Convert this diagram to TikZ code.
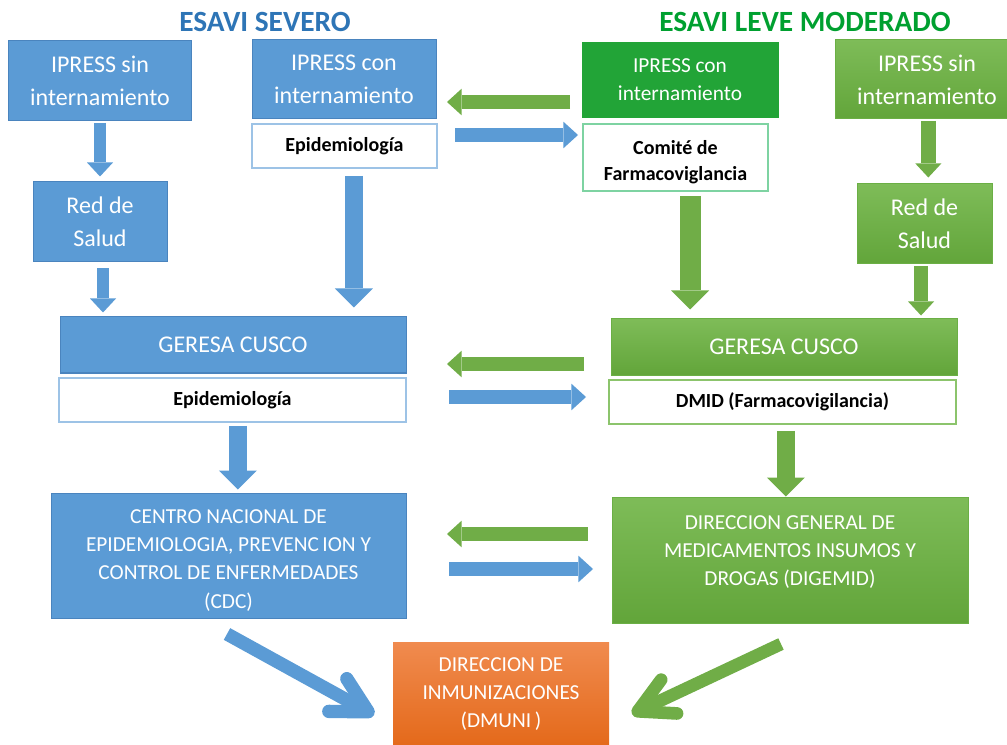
\documentclass[tikz,border=0pt]{standalone}
\usepackage{fontspec}
\setmainfont{Carlito}
\usetikzlibrary{arrows.meta}
\definecolor{SevBlue}{HTML}{5B9BD5}
\definecolor{SevEdge}{HTML}{4A84BE}
\definecolor{SevTitle}{HTML}{2E75B6}
\definecolor{SevSubEdge}{HTML}{9DC3E6}
\definecolor{LevTitle}{HTML}{00A030}
\definecolor{LevTop}{HTML}{7EBC58}
\definecolor{LevBot}{HTML}{62A53A}
\definecolor{LevEdge}{HTML}{6BAF45}
\definecolor{LevDark}{HTML}{22A437}
\definecolor{LevSubEdge}{HTML}{8CC46C}
\definecolor{ComiteEdge}{HTML}{7ED3A2}
\definecolor{LevArrow}{HTML}{70AD47}
\definecolor{DmuTop}{HTML}{F08B4F}
\definecolor{DmuBot}{HTML}{E4691A}
\tikzstyle{BoxText}=[text=white, align=center, inner sep=0pt, font=\fontsize{18}{24.75}\selectfont]
\tikzstyle{SmallText}=[font=\fontsize{16}{21.2}\selectfont]
\tikzstyle{SevBox}=[rectangle, BoxText, fill=SevBlue, draw=SevEdge, line width=0.75pt]
\tikzstyle{LevBox}=[rectangle, BoxText, top color=LevTop, bottom color=LevBot, draw=LevEdge, line width=0.75pt]
\tikzstyle{LevDarkBox}=[rectangle, BoxText, fill=LevDark, draw=LevDark]
\tikzstyle{DmuBox}=[rectangle, BoxText, SmallText, top color=DmuTop, bottom color=DmuBot]
\tikzstyle{SubBox}=[rectangle, fill=white, text=black, align=center, inner sep=0pt, line width=1.2pt, font=\bfseries\fontsize{15}{19.5}\selectfont]
\tikzstyle{SevSubBox}=[SubBox, draw=SevSubEdge]
\tikzstyle{LevSubBox}=[SubBox, draw=LevSubEdge]
\tikzstyle{SevSmall}=[draw=SevBlue, line width=9pt, -{Triangle[width=19.5pt, length=10.5pt, line width=0pt]}]
\tikzstyle{SevBig}=[SevSmall, line width=14pt, -{Triangle[width=28.5pt, length=14.25pt, line width=0pt]}]
\tikzstyle{SevSide}=[SevSmall, line width=10.5pt, -{Triangle[width=20pt, length=11pt, line width=0pt]}]
\tikzstyle{LevSmall}=[SevSmall, draw=LevArrow]
\tikzstyle{LevBig}=[SevBig, draw=LevArrow]
\tikzstyle{LevSide}=[SevSide, draw=LevArrow]
\tikzstyle{SevDiag}=[draw=SevBlue, line width=10pt, -{Straight Barb[length=26pt, width=28pt, round]}]
\tikzstyle{LevDiag}=[SevDiag, draw=LevArrow, line width=9.5pt]

\begin{document}
\begin{tikzpicture}[x=0.75pt, y=-0.75pt]
\useasboundingbox (0,0) rectangle (1007,745);
\clip (0,0) rectangle (1007,745);

\node[text=SevTitle, font=\bfseries\fontsize{22}{26}\selectfont](SevTitle) at (265,22) {ESAVI SEVERO};
\node[text=LevTitle, font=\bfseries\fontsize{22}{26}\selectfont](LevTitle) at (805,22) {ESAVI LEVE MODERADO};

% ESAVI severo
\node[SevBox, minimum width=183*0.75pt, minimum height=80*0.75pt](SevSin) at (100,81) {IPRESS sin\\internamiento};
\node[SevBox, minimum width=134*0.75pt, minimum height=80*0.75pt](SevRed) at (100,222) {Red de\\Salud};
\node[SevBox, minimum width=184*0.75pt, minimum height=79*0.75pt](SevCon) at (344,79.5) {IPRESS con\\internamiento};
\node[SevSubBox, minimum width=185*0.75pt, minimum height=44*0.75pt](SevEpi) at (344.5,146) {Epidemiología};
\node[SevBox, minimum width=346*0.75pt, minimum height=56*0.75pt](SevGeresa) at (233,345) {GERESA CUSCO};
\node[SevSubBox, minimum width=347*0.75pt, minimum height=44*0.75pt](SevGeresaEpi) at (232.5,400) {Epidemiología};
\node[SevBox, SmallText, minimum width=355*0.75pt, minimum height=125*0.75pt](Cdc) at (228.5,555.5) {\rule{0pt}{17.5pt}CENTRO NACIONAL DE\\EPIDEMIOLOGIA, PREVENC\,ION Y\\CONTROL DE ENFERMEDADES\\(CDC)};

% ESAVI leve moderado
\node[LevDarkBox, font=\fontsize{16}{21}\selectfont, minimum width=196*0.75pt, minimum height=75*0.75pt](LevCon) at (680,79.5) {IPRESS con\\internamiento};
\node[SubBox, draw=ComiteEdge, minimum width=185*0.75pt, minimum height=67*0.75pt](Comite) at (675.5,157.5) {\rule{0pt}{17pt}Comité de\\Farmacoviglancia};
\node[LevBox, minimum width=184*0.75pt, minimum height=79*0.75pt](LevSin) at (927,79.5) {IPRESS sin\\internamiento};
\node[LevBox, minimum width=135*0.75pt, minimum height=80*0.75pt](LevRed) at (924.5,224) {Red de\\Salud};
\node[LevBox, minimum width=346*0.75pt, minimum height=56*0.75pt](LevGeresa) at (784,347) {GERESA CUSCO};
\node[LevSubBox, minimum width=347*0.75pt, minimum height=44*0.75pt](Dmid) at (782.5,402) {DMID (Farmacovigilancia)};
\node[LevBox, SmallText, minimum width=356*0.75pt, minimum height=126*0.75pt](Digemid) at (790,560) {DIRECCION GENERAL DE\\MEDICAMENTOS INSUMOS Y\\DROGAS (DIGEMID)\rule[-14pt]{0pt}{1pt}};

\node[DmuBox, minimum width=216*0.75pt, minimum height=104*0.75pt](Dmuni) at (501,694) {DIRECCION DE\\INMUNIZACIONES\\(DMUNI\,)};

% flechas verticales
\draw[SevSmall, shorten <=1pt, shorten >=3.75pt](SevSin.south) -- (SevRed.north);
\draw[SevSmall, shorten <=4.5pt, shorten >=3pt]([xshift=2.25pt]SevRed.south) -- ([xshift=2.25pt]SevRed.south |- SevGeresa.north);
\draw[SevBig, shorten <=5.25pt, shorten >=6.75pt]([xshift=7pt]SevEpi.south) -- ([xshift=7pt]SevEpi.south |- SevGeresa.north);
\draw[SevBig, shorten <=2.25pt, shorten >=2.25pt]([xshift=4pt]SevGeresaEpi.south) -- ([xshift=4pt]SevGeresaEpi.south |- Cdc.north);

\draw[LevBig, line width=16pt, shorten <=3pt, shorten >=6.75pt]([xshift=11pt]Comite.south) -- ([xshift=11pt]Comite.south |- LevGeresa.north);
\draw[LevSmall, line width=11pt, shorten <=1pt, shorten >=4.5pt]([xshift=1pt]LevSin.south) -- ([xshift=1pt]LevSin.south |- LevRed.north);
\draw[LevSmall, line width=10pt, shorten <=1pt, shorten >=2.25pt]([xshift=-2.6pt]LevRed.south) -- ([xshift=-2.6pt]LevRed.south |- LevGeresa.north);
\draw[LevBig, shorten <=4.5pt, shorten >=0pt]([xshift=2.6pt]Dmid.south) -- ([xshift=2.6pt]Dmid.south |- Digemid.north);

% flechas entre columnas
\coordinate (TopGreenA) at (570,102);
\coordinate (TopGreenB) at (447,102);
\coordinate (TopBlueA) at (455,135);
\coordinate (TopBlueB) at (578,135);
\coordinate (MidGreenA) at (584,364);
\coordinate (MidGreenB) at (447,364);
\coordinate (MidBlueA) at (449,397);
\coordinate (MidBlueB) at (586,397);
\coordinate (LowGreenA) at (588,534);
\coordinate (LowGreenB) at (447,534);
\coordinate (LowBlueA) at (449,569);
\coordinate (LowBlueB) at (593,569);

\draw[LevSide](TopGreenA) -- (TopGreenB);
\draw[SevSide](TopBlueA) -- (TopBlueB);
\draw[LevSide](MidGreenA) -- (MidGreenB);
\draw[SevSide](MidBlueA) -- (MidBlueB);
\draw[LevSide](LowGreenA) -- (LowGreenB);
\draw[SevSide](LowBlueA) -- (LowBlueB);

% flechas diagonales
\coordinate (SevFrom) at (227,634);
\coordinate (SevTip) at (374,715);
\coordinate (LevFrom) at (781,644);
\coordinate (LevTip) at (632,714);
\draw[SevDiag](SevFrom) -- (SevTip);
\draw[LevDiag](LevFrom) -- (LevTip);
\end{tikzpicture}
\end{document}
